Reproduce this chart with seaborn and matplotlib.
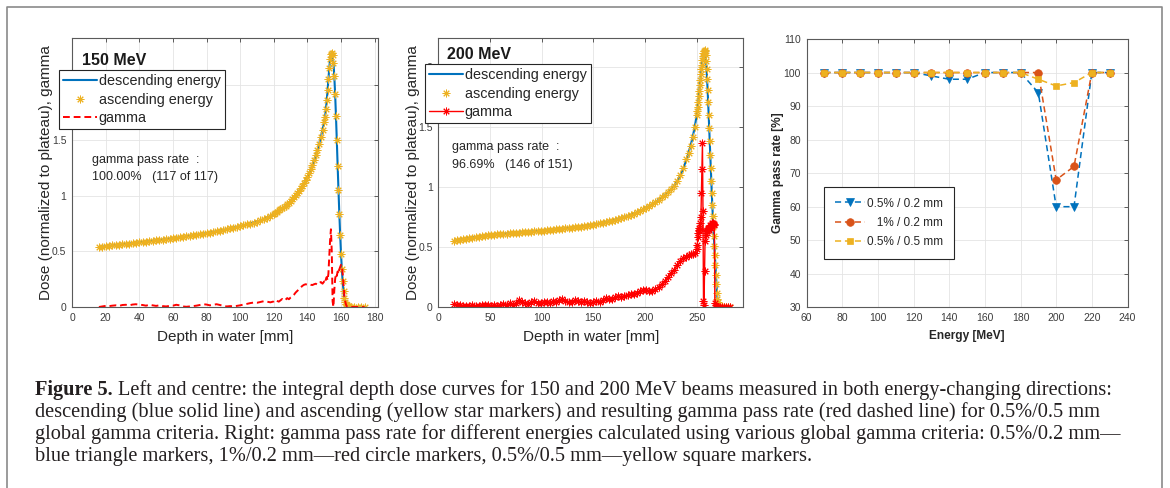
import matplotlib
matplotlib.use('Agg')
import matplotlib.pyplot as plt
from matplotlib.lines import Line2D
import seaborn as sns

# ---------------- data ----------------
depth_150 = [16, 18, 20, 22, 24, 26, 28, 30, 32, 34,
             36, 38, 40, 42, 44, 46, 48, 50, 52, 54,
             56, 58, 60, 62, 64, 66, 68, 70, 72, 74,
             76, 78, 80, 82, 84, 86, 88, 90, 92, 94,
             96, 98, 100, 102, 104, 106, 108, 110, 112, 114,
             116, 118, 120, 121, 122, 123, 124, 125, 126, 127,
             128, 129, 130, 131, 132, 133, 134, 135, 136, 137,
             138, 139, 140, 141, 142, 143, 144, 145, 146, 147,
             148, 149, 150, 150.5, 151, 151.5, 152, 152.5, 153, 153.5,
             154, 154.5, 155, 155.5, 156, 156.5, 157, 157.5, 158, 158.5,
             159, 159.5, 160, 160.5, 161, 161.5, 162, 162.5, 163, 163.5,
             164, 164.5, 165, 166, 168, 170, 172, 174]
dose_150 = [0.540, 0.543, 0.547, 0.550, 0.554, 0.557, 0.561, 0.564, 0.568, 0.571,
            0.575, 0.578, 0.582, 0.585, 0.589, 0.592, 0.596, 0.600, 0.603, 0.607,
            0.611, 0.615, 0.619, 0.623, 0.627, 0.631, 0.636, 0.640, 0.645, 0.650,
            0.655, 0.660, 0.665, 0.670, 0.676, 0.682, 0.688, 0.694, 0.700, 0.707,
            0.714, 0.721, 0.728, 0.736, 0.744, 0.752, 0.761, 0.770, 0.780, 0.791,
            0.805, 0.822, 0.840, 0.850, 0.860, 0.870, 0.880, 0.891, 0.902, 0.914,
            0.927, 0.941, 0.956, 0.972, 0.989, 1.007, 1.026, 1.046, 1.068, 1.092,
            1.117, 1.144, 1.173, 1.205, 1.240, 1.278, 1.320, 1.366, 1.416, 1.470,
            1.530, 1.595, 1.665, 1.710, 1.780, 1.860, 1.950, 2.050, 2.150, 2.230,
            2.280, 2.290, 2.270, 2.200, 2.080, 1.920, 1.720, 1.500, 1.270, 1.050,
            0.840, 0.650, 0.480, 0.340, 0.230, 0.140, 0.080, 0.045, 0.025, 0.014,
            0.008, 0.005, 0.003, 0.001, 0.0, 0.0, 0.0, 0.0]
gamma_150 = [0.000, 0.005, 0.010, 0.008, 0.012, 0.015, 0.010, 0.018, 0.020, 0.015,
             0.022, 0.025, 0.020, 0.018, 0.012, 0.020, 0.015, 0.010, 0.015, 0.008,
             0.005, 0.010, 0.012, 0.020, 0.015, 0.005, 0.002, 0.005, 0.008, 0.012,
             0.018, 0.025, 0.022, 0.015, 0.020, 0.025, 0.018, 0.010, 0.005, 0.008,
             0.006, 0.010, 0.015, 0.022, 0.028, 0.035, 0.040, 0.038, 0.045, 0.052,
             0.048, 0.042, 0.050, 0.065, 0.055, 0.048, 0.060, 0.072, 0.058, 0.065,
             0.080, 0.070, 0.085, 0.095, 0.110, 0.130, 0.145, 0.160, 0.175, 0.190,
             0.200, 0.205, 0.200, 0.205, 0.200, 0.198, 0.205, 0.210, 0.200, 0.215,
             0.225, 0.210, 0.230, 0.215, 0.250, 0.270, 0.240, 0.300, 0.450, 0.600,
             0.700, 0.500, 0.050, 0.000, 0.150, 0.250, 0.300, 0.280, 0.320, 0.300,
             0.340, 0.360, 0.380, 0.370, 0.300, 0.200, 0.100, 0.050, 0.020, 0.005,
             0.0, 0.0, 0.0, 0.0, 0.0, 0.0, 0.0, 0.0]

depth_200 = [15, 18, 21, 24, 27, 30, 33, 36, 39, 42,
             45, 48, 51, 54, 57, 60, 63, 66, 69, 72,
             75, 78, 81, 84, 87, 90, 93, 96, 99, 102,
             105, 108, 111, 114, 117, 120, 123, 126, 129, 132,
             135, 138, 141, 144, 147, 150, 153, 156, 159, 162,
             165, 168, 171, 174, 177, 180, 183, 186, 189, 192,
             195, 198, 201, 204, 207, 210, 213, 216, 219, 222,
             225, 228, 231, 234, 237, 240, 242, 244, 246, 248,
             250, 250.5, 251, 251.5, 252, 252.5, 253, 253.5, 254, 254.5,
             255, 255.5, 256, 256.5, 257, 257.5, 258, 258.5, 259, 259.5,
             260, 260.5, 261, 261.5, 262, 262.5, 263, 263.5, 264, 264.5,
             265, 265.5, 266, 266.5, 267, 267.5, 268, 268.5, 269, 269.5,
             270, 270.5, 271, 272, 274, 276, 278, 280, 282]
dose_200 = [0.550, 0.556, 0.561, 0.566, 0.571, 0.575, 0.579, 0.583, 0.587, 0.590,
            0.594, 0.597, 0.600, 0.603, 0.605, 0.608, 0.610, 0.612, 0.614, 0.617,
            0.619, 0.621, 0.623, 0.625, 0.627, 0.629, 0.631, 0.633, 0.635, 0.637,
            0.639, 0.642, 0.644, 0.647, 0.649, 0.652, 0.655, 0.658, 0.661, 0.664,
            0.667, 0.671, 0.675, 0.679, 0.683, 0.687, 0.692, 0.697, 0.702, 0.708,
            0.714, 0.720, 0.727, 0.734, 0.742, 0.750, 0.759, 0.768, 0.778, 0.789,
            0.801, 0.814, 0.828, 0.843, 0.859, 0.876, 0.894, 0.914, 0.935, 0.958,
            0.983, 1.012, 1.050, 1.098, 1.157, 1.230, 1.285, 1.345, 1.415, 1.500,
            1.600, 1.630, 1.670, 1.710, 1.760, 1.800, 1.850, 1.890, 1.940, 1.980,
            2.020, 2.060, 2.090, 2.120, 2.135, 2.140, 2.130, 2.100, 2.050, 1.980,
            1.900, 1.810, 1.710, 1.600, 1.490, 1.380, 1.270, 1.160, 1.050, 0.950,
            0.850, 0.760, 0.670, 0.590, 0.510, 0.430, 0.350, 0.270, 0.190, 0.120,
            0.070, 0.040, 0.020, 0.010, 0.003, 0.0, 0.0, 0.0, 0.0]
gamma_200 = [0.025, 0.020, 0.015, 0.010, 0.012, 0.008, 0.015, 0.010, 0.012, 0.018,
             0.015, 0.020, 0.012, 0.015, 0.010, 0.020, 0.025, 0.018, 0.030, 0.020,
             0.035, 0.055, 0.045, 0.030, 0.025, 0.040, 0.050, 0.035, 0.030, 0.045,
             0.040, 0.035, 0.050, 0.045, 0.055, 0.065, 0.050, 0.040, 0.045, 0.055,
             0.050, 0.045, 0.050, 0.040, 0.035, 0.040, 0.050, 0.045, 0.060, 0.075,
             0.065, 0.070, 0.080, 0.090, 0.085, 0.095, 0.100, 0.110, 0.105, 0.120,
             0.130, 0.145, 0.140, 0.135, 0.130, 0.150, 0.170, 0.190, 0.215, 0.250,
             0.280, 0.310, 0.350, 0.380, 0.410, 0.420, 0.430, 0.440, 0.445, 0.450,
             0.480, 0.520, 0.580, 0.620, 0.640, 0.660, 0.650, 0.700, 0.750, 0.950,
             1.150, 1.370, 0.800, 0.050, 0.020, 0.300, 0.550, 0.600, 0.620, 0.640,
             0.630, 0.650, 0.660, 0.640, 0.660, 0.670, 0.680, 0.660, 0.680, 0.690,
             0.700, 0.690, 0.700, 0.680, 0.690, 0.030, 0.000, 0.000, 0.000, 0.000,
             0.0, 0.0, 0.0, 0.0, 0.0, 0.0, 0.0, 0.0, 0.0]

energy = [70, 80, 90, 100, 110, 120, 130, 140, 150, 160, 170, 180, 190, 200, 210, 220, 230]
pass_05_02 = [100, 100, 100, 100, 100, 100, 99, 98, 98, 100, 100, 100, 94, 60, 60, 100, 100]
pass_1_02 = [100, 100, 100, 100, 100, 100, 100, 100, 100, 100, 100, 100, 100, 68, 72, 100, 100]
pass_05_05 = [100, 100, 100, 100, 100, 100, 100, 100, 100, 100, 100, 100, 98, 96, 97, 100, 100]

legend_dose = ['descending energy', 'ascending energy', 'gamma']
legend_pass = ['0.5% / 0.2 mm', '   1% / 0.2 mm', '0.5% / 0.5 mm']

caption_lines = [
    ("Figure 5.", "Left and centre: the integral depth dose curves for 150 and 200 MeV beams measured in both energy-changing directions:"),
    ("", "descending (blue solid line) and ascending (yellow star markers) and resulting gamma pass rate (red dashed line) for 0.5%/0.5 mm"),
    ("", "global gamma criteria. Right: gamma pass rate for different energies calculated using various global gamma criteria: 0.5%/0.2 mm\u2014"),
    ("", "blue triangle markers, 1%/0.2 mm\u2014red circle markers, 0.5%/0.5 mm\u2014yellow square markers."),
]

# ---------------- style ----------------
sns.set_theme(style='white')
plt.rcParams['font.family'] = ['Liberation Sans', 'DejaVu Sans']
plt.rcParams['axes.unicode_minus'] = False

BLUE = '#0072BD'
ORANGE = '#D95319'
YELLOW = '#EDB120'
RED = '#FF0000'
SPINE = '#5a5a5a'
TXT = '#262626'
STAR = (8, 2, 0)

W, H = 1170, 488
fig = plt.figure(figsize=(W / 100, H / 100), dpi=100)
fig.patch.set_facecolor('white')


def px_axes(l, t, r, b):
    return fig.add_axes([l / W, 1 - b / H, (r - l) / W, (b - t) / H])


def style(ax):
    ax.set_facecolor('white')
    for s in ax.spines.values():
        s.set_visible(True)
        s.set_color(SPINE)
        s.set_linewidth(0.8)
    ax.tick_params(direction='in', length=3, width=0.7, color=SPINE,
                   labelcolor='#3c3c3c', labelsize=7.5, top=True, right=True, pad=4)
    ax.grid(True, color='#e4e4e4', linewidth=0.6)
    ax.set_axisbelow(True)


ax1 = px_axes(72, 38.3, 378, 307)
ax2 = px_axes(438.3, 38.3, 743.3, 307)
ax3 = px_axes(806.5, 39, 1127.5, 307.3)

# ---------- panel 1 & 2 ----------
for ax, depth, dose, gam, gstyle in [(ax1, depth_150, dose_150, gamma_150, 'dash'),
                                     (ax2, depth_200, dose_200, gamma_200, 'star')]:
    style(ax)
    sns.lineplot(x=depth, y=dose, ax=ax, color=BLUE, lw=1.5, sort=False, estimator=None)
    sns.lineplot(x=depth, y=dose, ax=ax, color=YELLOW, linestyle='none', marker=STAR,
                 ms=5.5, mew=0.7, mec=YELLOW, sort=False, estimator=None)
    if gstyle == 'dash':
        sns.lineplot(x=depth, y=gam, ax=ax, color=RED, lw=1.4, linestyle=(0, (3.5, 2)),
                     sort=False, estimator=None)
    else:
        sns.lineplot(x=depth, y=gam, ax=ax, color=RED, lw=1.0, marker=STAR, ms=5.5,
                     mew=0.7, mec=RED, sort=False, estimator=None)
    ax.set_xlabel('Depth in water [mm]', fontsize=11, color=TXT)
    ax.set_ylabel('Dose (normalized to plateau), gamma', fontsize=11, color=TXT)
    ax.xaxis.set_label_coords(0.5, -0.0856)
    ax.set_yticks([0, 0.5, 1, 1.5, 2], labels=['0', '0.5', '1', '1.5', '2'])

ax1.set_xlim(0, 182)
ax1.set_ylim(0, 2.42)
ax1.set_xticks(range(0, 181, 20))
ax1.yaxis.set_label_coords(-0.062, 0.5)
ax2.set_xlim(0, 295)
ax2.set_ylim(0, 2.24)
ax2.set_xticks(range(0, 251, 50))
ax2.yaxis.set_label_coords(-0.0616, 0.5)

h_desc = Line2D([], [], color=BLUE, lw=1.5)
h_asc = Line2D([], [], color=YELLOW, ls='none', marker=STAR, ms=5.5, mew=0.7)
h_g1 = Line2D([], [], color=RED, lw=1.4, ls=(0, (3.5, 2)))
h_g2 = Line2D([], [], color=RED, lw=1.0, marker=STAR, ms=5.5, mew=0.7)

for ax, hg, (lx, ly) in [(ax1, h_g1, (59, 70)), (ax2, h_g2, (425, 64))]:
    leg = ax.legend([h_desc, h_asc, hg], legend_dose, loc='upper left',
                    bbox_to_anchor=(lx / W, 1 - ly / H), bbox_transform=fig.transFigure,
                    fontsize=10.4, frameon=True, fancybox=False, edgecolor=TXT,
                    framealpha=1, borderpad=0.3, labelspacing=0.3, handlelength=2.3,
                    handletextpad=0.15, borderaxespad=0)
    leg.get_frame().set_linewidth(0.8)
    for t in leg.get_texts():
        t.set_color(TXT)

ax1.text(0.033, 0.90, '150 MeV', transform=ax1.transAxes, fontsize=11.5,
         fontweight='bold', color='#1a1a1a', va='baseline')
ax1.text(0.064, 0.536, 'gamma pass rate  :', transform=ax1.transAxes, fontsize=9,
         color=TXT, va='baseline')
ax1.text(0.064, 0.473, '100.00%   (117 of 117)', transform=ax1.transAxes, fontsize=9,
         color=TXT, va='baseline')
ax2.text(0.0275, 0.922, '200 MeV', transform=ax2.transAxes, fontsize=11.5,
         fontweight='bold', color='#1a1a1a', va='baseline')
ax2.text(0.044, 0.584, 'gamma pass rate  :', transform=ax2.transAxes, fontsize=9,
         color=TXT, va='baseline')
ax2.text(0.044, 0.517, '96.69%   (146 of 151)', transform=ax2.transAxes, fontsize=9,
         color=TXT, va='baseline')

# ---------- panel 3 ----------
style(ax3)
series3 = [(pass_05_02, BLUE, 'v', 5.5), (pass_1_02, ORANGE, 'o', 5.5), (pass_05_05, YELLOW, 's', 4.5)]
handles3 = []
for vals, col, mk, ms in series3:
    sns.lineplot(x=energy, y=vals, ax=ax3, color=col, lw=1.1, linestyle=(0, (4, 2.5)),
                 marker=mk, ms=ms, mec=col, mew=0.5, sort=False, estimator=None)
    handles3.append(Line2D([], [], color=col, lw=1.1, ls=(0, (4, 2.5)), marker=mk,
                           ms=ms, mec=col, mew=0.5))
ax3.set_xlim(60, 240)
ax3.set_ylim(30, 110)
ax3.set_xticks(range(60, 241, 20))
ax3.set_yticks(range(30, 111, 10))
ax3.set_xlabel('Energy [MeV]', fontsize=8.6, fontweight='bold', color=TXT)
ax3.set_ylabel('Gamma pass rate [%]', fontsize=8.6, fontweight='bold', color=TXT)
ax3.xaxis.set_label_coords(0.5, -0.0846)
ax3.yaxis.set_label_coords(-0.07, 0.5)
leg3 = ax3.legend(handles3, legend_pass, loc='upper left',
                  bbox_to_anchor=(824 / W, 1 - 187 / H), bbox_transform=fig.transFigure,
                  fontsize=8.5, frameon=True, fancybox=False, edgecolor=TXT, framealpha=1,
                  borderpad=0.9, labelspacing=0.62, handlelength=2.6, handletextpad=0.15,
                  borderaxespad=0)
leg3.get_frame().set_linewidth(0.8)
for t in leg3.get_texts():
    t.set_color(TXT)

# ---------- frame ----------
fig.add_artist(Line2D([7 / W, 7 / W, 1162 / W, 1162 / W], [0, 1 - 7 / H, 1 - 7 / H, 0],
                      transform=fig.transFigure, color='#8a8a8a', lw=1.2))

# ---------- caption ----------
renderer = fig.canvas.get_renderer()
cap_size = 14.7
baselines = [395, 417, 439, 461]
for (bold, rest), yb in zip(caption_lines, baselines):
    x0 = 35 / W
    if bold:
        tb = fig.text(x0, 1 - yb / H, bold, fontsize=cap_size, fontweight='bold',
                      family=['Liberation Serif', 'DejaVu Serif'], color='#231f20', va='baseline')
        bb = tb.get_window_extent(renderer)
        x0 = (bb.x1 + 5) / W
    fig.text(x0, 1 - yb / H, rest, fontsize=cap_size, family=['Liberation Serif', 'DejaVu Serif'],
             color='#231f20', va='baseline')

fig.savefig('out.png', dpi=100, facecolor='white')
